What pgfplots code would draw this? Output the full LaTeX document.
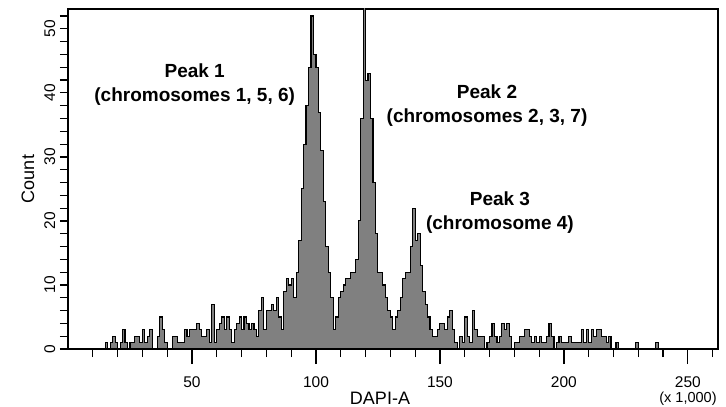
\documentclass[border=0pt]{standalone}
\usepackage{pgfplots}
\pgfplotsset{compat=1.18}
\usepackage{pgfplotstable}
\usepackage{fontspec}
\setmainfont{Liberation Sans}
\definecolor{histgray}{HTML}{808080}
\pgfplotstableread{
x y
14 0
15 1
16 0
17 1
18 2
19 1
20 0
21 1
22 3
23 1
24 0
25 1
26 1
27 2
28 2
29 1
30 3
31 1
32 2
33 3
34 0
35 0
36 2
37 5
38 3
39 1
40 0
41 0
42 2
43 2
44 1
45 1
46 1
47 3
48 2
49 3
50 3
51 3
52 4
53 3
54 2
55 2
56 3
57 1
58 7
59 1
60 3
61 4
62 5
63 3
64 5
65 3
66 1
67 3
68 4
69 5
70 3
71 5
72 4
73 3
74 4
75 3
76 2
77 6
78 8
79 3
80 6
81 6
82 7
83 6
84 8
85 5
86 3
87 9
88 11
89 10
90 11
91 8
92 12
93 17
94 25
95 32
96 38
97 44
98 52
99 46
100 44
101 37
102 31
103 23
104 16
105 12
106 8
107 3
108 5
109 8
110 9
111 10
112 11
113 11
114 12
115 12
116 14
117 20
118 36
119 56
120 42
121 43
122 36
123 26
124 18
125 12
126 12
127 10
128 8
129 6
130 5
131 3
132 5
133 6
134 8
135 11
136 12
137 12
138 16
139 22
140 17
141 18
142 13
143 9
144 7
145 5
146 3
147 2
148 2
149 3
150 4
151 4
152 3
153 5
154 6
155 3
156 1
157 0
158 2
159 1
160 5
161 2
162 1
163 6
164 3
165 2
166 2
167 2
168 0
169 1
170 2
171 4
172 2
173 1
174 2
175 4
176 3
177 4
178 2
179 0
180 1
181 1
182 2
183 2
184 3
185 3
186 2
187 1
188 2
189 1
190 2
191 1
192 1
193 2
194 4
195 2
196 0
197 1
198 2
199 1
200 1
201 1
202 2
203 1
204 1
205 1
206 1
207 3
208 1
209 3
210 1
211 3
212 2
213 3
214 3
215 2
216 2
217 1
218 2
219 0
220 0
221 1
222 0
228 0
229 1
230 0
236 0
237 1
238 0
240 0
}\histdata
\begin{document}
\begin{tikzpicture}
\path[use as bounding box] (-68pt,-58pt) rectangle (658pt,349pt);
\begin{axis}[
  at={(0pt,0pt)}, anchor=south west,
  width=650pt, height=340pt, scale only axis,
  xmin=0, xmax=262.144, ymin=0, ymax=53.1,
  axis line style={line width=1.2pt},
  tick style={line width=1.2pt, black},
  tick align=outside,
  xtick pos=bottom, ytick pos=left,
  major tick length=15pt, minor tick length=8pt,
  xtick={50,100,...,250}, minor xtick={10,20,...,260},
  ytick={0,10,...,50}, minor ytick={0,2,...,52},
  every major y tick/.append style={draw=none},
  /pgf/number format/assume math mode=true,
  ticklabel style={font=\fontsize{15.5}{17}\selectfont},
  xticklabel style={yshift=-9pt},
  yticklabel style={xshift=2.5pt, rotate=90, anchor=south, inner sep=0pt},
  clip=true,
]
\addplot[const plot, fill=histgray, draw=black, line width=1.1pt] table[x=x,y=y] {\histdata} \closedcycle;
\node[align=center, font=\fontsize{19}{24}\selectfont\bfseries] at (axis cs:51.1,41.25) {Peak 1\\(chromosomes 1, 5, 6)};
\node[align=center, font=\fontsize{19}{24}\selectfont\bfseries] at (axis cs:169.0,38.0) {Peak 2\\(chromosomes 2, 3, 7)};
\node[align=center, font=\fontsize{19}{24}\selectfont\bfseries] at (axis cs:174.2,21.35) {Peak 3\\(chromosome 4)};
\end{axis}
\node[font=\fontsize{18}{20}\selectfont] at (312pt,-49pt) {DAPI-A};
\node[font=\fontsize{18}{20}\selectfont, rotate=90] at (-40pt,170pt) {Count};
\node[font=\fontsize{14.5}{16}\selectfont] at (620pt,-49.5pt) {(x 1,000)};
\end{tikzpicture}
\end{document}
